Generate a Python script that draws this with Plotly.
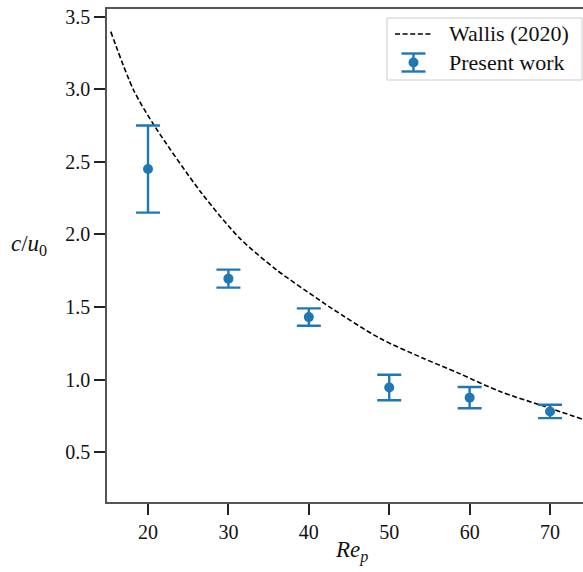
import plotly.graph_objects as go

# Measured propagation speed (present work) with uncertainty
re_p = [20, 30, 40, 50, 60, 70]
c_over_u0 = [2.45, 1.695, 1.43, 0.945, 0.875, 0.78]
c_err = [0.30, 0.062, 0.06, 0.088, 0.073, 0.046]

# Wallis (2020) reference curve, sampled points
wallis_re = [15.37, 18.2, 20.87, 26.67, 31.4, 36.0, 40.97, 42.8, 48.8, 54.2, 58.6, 63.8, 69.2, 74.0]
wallis_c = [3.397, 2.995, 2.742, 2.284, 1.974, 1.755, 1.561, 1.492, 1.285, 1.147, 1.044, 0.917, 0.817, 0.727]

x_ticks = [20, 30, 40, 50, 60, 70]
y_ticks = [0.5, 1.0, 1.5, 2.0, 2.5, 3.0, 3.5]

FONT = "Liberation Serif"
BLUE = "#1f77b4"
W, H = 583, 572
ML, MR, MT, MB = 107, 0, 9, 70
PW, PH = W - ML - MR, H - MT - MB


def px(xp):
    """Horizontal pixel -> paper coordinate."""
    return (xp - ML) / PW


def py(yp):
    """Vertical pixel -> paper coordinate."""
    return (H - MB - yp) / PH


fig = go.Figure()

fig.add_trace(go.Scatter(
    x=wallis_re, y=wallis_c, mode="lines", name="Wallis (2020)", showlegend=False,
    line=dict(color="black", width=1.6, dash="5px,2.6px", shape="spline", smoothing=0.8),
))

fig.add_trace(go.Scatter(
    x=re_p, y=c_over_u0, mode="markers", name="Present work", showlegend=False,
    marker=dict(color=BLUE, size=10),
    error_y=dict(type="data", array=c_err, visible=True, color=BLUE,
                 thickness=2.4, width=12),
))

axis_common = dict(
    showgrid=False, zeroline=False,
    showline=True, linecolor="#555", linewidth=1.5,
    ticks="outside", ticklen=11, tickwidth=1.6, tickcolor="#222",
    tickfont=dict(family=FONT, size=20, color="#111"),
)

fig.update_xaxes(range=[14.9, 74.1], tickvals=x_ticks, mirror=True, **axis_common)
fig.update_yaxes(range=[0.156, 3.553], tickvals=y_ticks,
                 ticktext=[f"{v:.1f}" for v in y_ticks], mirror=False, **axis_common)

# Axis labels
fig.add_annotation(
    text="<i>c</i>/<i>u</i><sub>0</sub>", xref="paper", yref="paper",
    x=px(9), y=py(245), xanchor="left", yanchor="middle", showarrow=False,
    font=dict(family=FONT, size=23, color="#111"),
)
fig.add_annotation(
    text="<i>Re</i><sub><i>p</i></sub>", xref="paper", yref="paper",
    x=px(351), y=py(535), xanchor="center", yanchor="top", showarrow=False,
    font=dict(family=FONT, size=23, color="#111"),
)

# Legend box with dashed-line and error-bar glyphs
shapes = [
    dict(type="rect", xref="paper", yref="paper",
         x0=px(387), x1=px(582), y0=py(80), y1=py(18),
         line=dict(color="#cccccc", width=1), fillcolor="white", layer="above"),
    dict(type="line", xref="paper", yref="paper",
         x0=px(395), x1=px(432), y0=py(34), y1=py(34),
         line=dict(color="black", width=1.6, dash="5px,2.6px"), layer="above"),
    dict(type="line", xref="paper", yref="paper",
         x0=px(413.5), x1=px(413.5), y0=py(53.5), y1=py(71.5),
         line=dict(color=BLUE, width=2.4), layer="above"),
    dict(type="line", xref="paper", yref="paper",
         x0=px(401.5), x1=px(425.5), y0=py(53.5), y1=py(53.5),
         line=dict(color=BLUE, width=2.4), layer="above"),
    dict(type="line", xref="paper", yref="paper",
         x0=px(401.5), x1=px(425.5), y0=py(71.5), y1=py(71.5),
         line=dict(color=BLUE, width=2.4), layer="above"),
    dict(type="circle", xref="paper", yref="paper",
         x0=px(408.5), x1=px(418.5), y0=py(67.5), y1=py(57.5),
         line=dict(color=BLUE, width=0), fillcolor=BLUE, layer="above"),
]
fig.add_annotation(
    text="Wallis (2020)", xref="paper", yref="paper",
    x=px(447), y=py(34), xanchor="left", yanchor="middle", showarrow=False,
    font=dict(family=FONT, size=22, color="#111"),
)
fig.add_annotation(
    text="Present work", xref="paper", yref="paper",
    x=px(447), y=py(63), xanchor="left", yanchor="middle", showarrow=False,
    font=dict(family=FONT, size=22, color="#111"),
)

fig.update_layout(
    width=W, height=H,
    margin=dict(l=ML, r=MR, t=MT, b=MB),
    plot_bgcolor="white", paper_bgcolor="white",
    showlegend=False,
    shapes=shapes,
)

fig.write_html("out.html")
